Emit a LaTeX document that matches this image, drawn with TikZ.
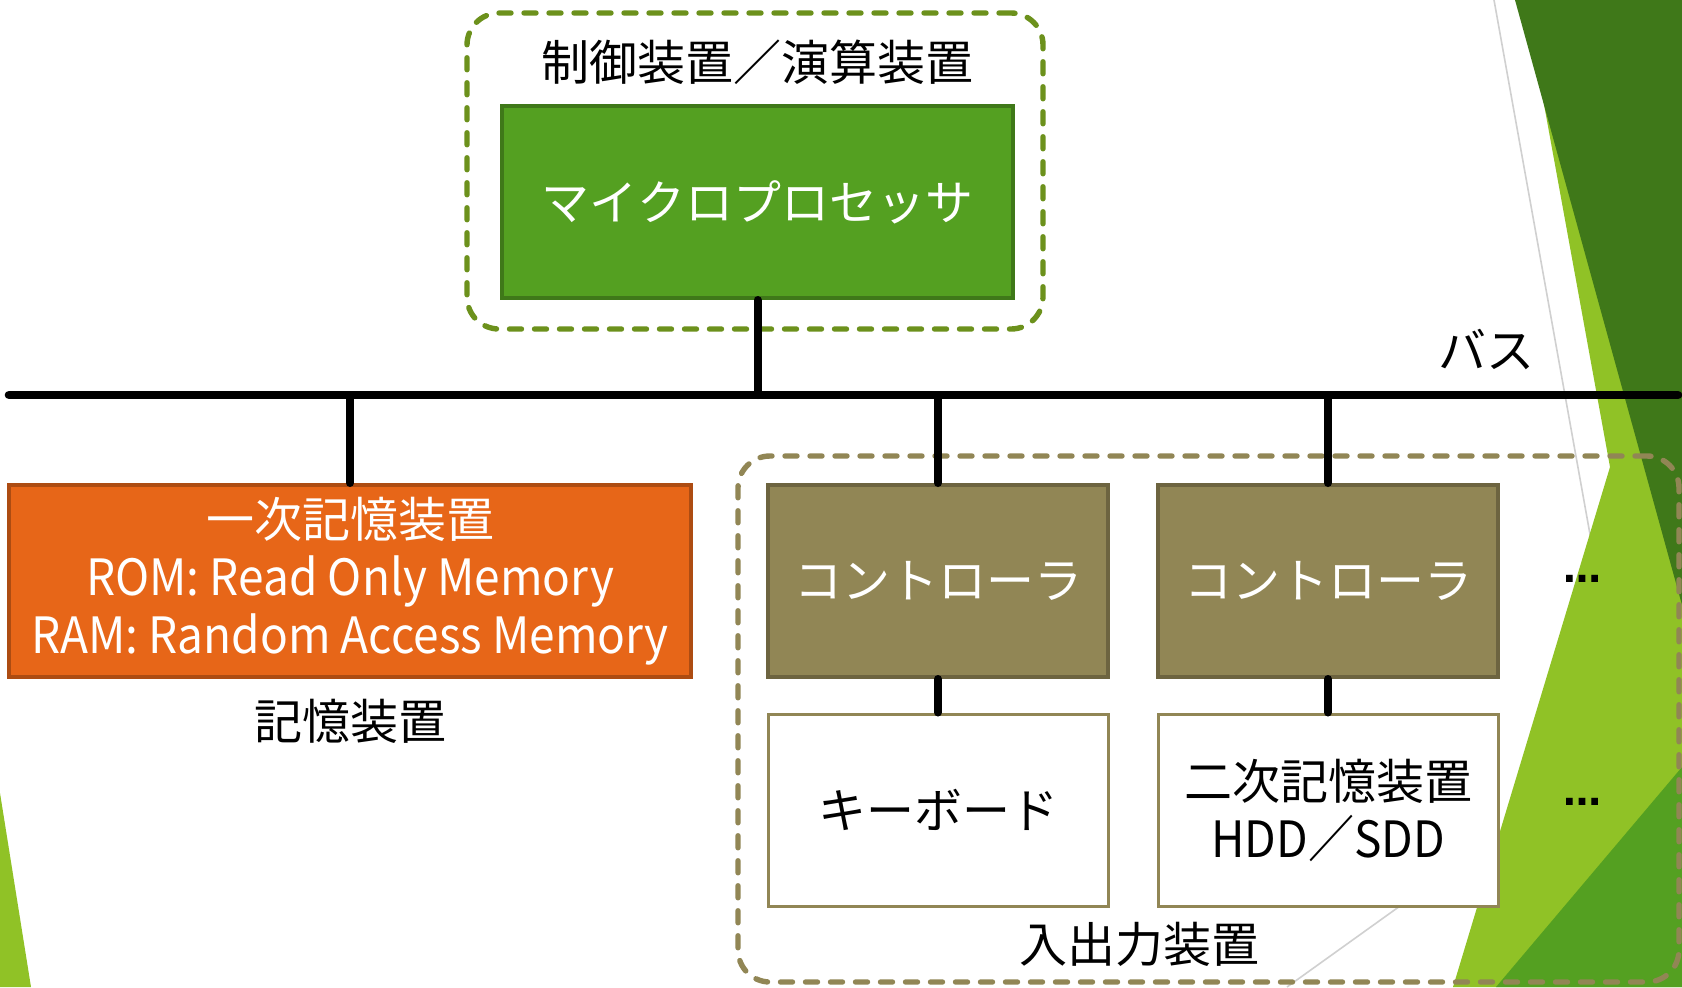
\documentclass[tikz,border=0pt]{standalone}
\usepackage{fontspec}
\setmainfont{Noto Sans CJK JP}
\newfontfamily\latn[FakeStretch=0.92]{Noto Sans CJK JP}
\newfontfamily\dotsfont{DejaVu Sans}
\definecolor{dkgreen}{HTML}{3F7819}
\definecolor{ltgreen}{HTML}{90C226}
\definecolor{mdgreen}{HTML}{54A021}
\definecolor{orng}{HTML}{E76618}
\definecolor{orngdk}{HTML}{AD4C12}
\definecolor{olv}{HTML}{918655}
\definecolor{olvdk}{HTML}{6D6440}
\definecolor{dashgreen}{HTML}{6C911C}
\definecolor{greyline}{HTML}{D0D0D0}
\newcommand{\lt}[1]{{\latn\fontsize{25}{29}\selectfont #1}}
\tikzset{
  txt/.style={font=\fontsize{24}{29}\selectfont},
  box/.style={draw, line width=2pt, minimum height=96pt, inner sep=0pt, align=center, txt},
  cpubox/.style={box, fill=mdgreen, draw=dkgreen, text=white, minimum width=255.5pt},
  membox/.style={box, fill=orng, draw=orngdk, text=white, minimum width=341pt},
  ctrlbox/.style={box, fill=olv, draw=olvdk, text=white, minimum width=170pt},
  devbox/.style={box, fill=white, draw=olv, line width=1.5pt, minimum width=170pt},
  grpbox/.style={draw, line width=2.7pt, rounded corners=16pt, dash pattern=on 6pt off 6.5pt, line cap=round, inner sep=0pt},
  wire/.style={line width=4pt, line cap=round},
  lbl/.style={txt, inner sep=0pt},
  dotlbl/.style={font=\dotsfont\bfseries\fontsize{19}{19}\selectfont, inner sep=0pt},
  bgline/.style={greyline, line width=0.8pt}
}
\begin{document}
\begin{tikzpicture}[x=0.5pt,y=-0.5pt]
\useasboundingbox (0,0) rectangle (1682,987);
\fill[white] (0,0) rectangle (1682,987);
% background decoration
\draw[bgline] (1494,0) -- (1600,590);
\draw[bgline] (1287,987) -- (1520,820);
\fill[ltgreen] (1525,0) -- (1610,467) -- (1453,987) -- (1682,987) -- (1682,0) -- cycle;
\fill[dkgreen] (1515,0) -- (1682,0) -- (1682,605) -- cycle;
\fill[mdgreen] (1682,767) -- (1496,987) -- (1682,987) -- cycle;
\fill[ltgreen] (0,793) -- (31,987) -- (0,987) -- cycle;
% group frames
\node[grpbox, draw=dashgreen, minimum width=288pt, minimum height=158pt] (cugrp) at (755,171) {};
\node[grpbox, draw=olv, minimum width=470.5pt, minimum height=263pt] (iogrp) at (1208.5,719) {};
% boxes
\node[cpubox] (cpu) at (757.5,202) {マイクロプロセッサ};
\node[membox] (mem) at (350,581) {一次記憶装置\\\lt{ROM: Read Only Memory}\\\lt{RAM: Random Access Memory}};
\node[ctrlbox] (c1) at (938,581) {コントローラ};
\node[ctrlbox] (c2) at (1328,581) {コントローラ};
\node[devbox] (kb) at (938,810) {キーボード};
\node[devbox] (hdd) at (1328,810) {二次記憶装置\\\lt{HDD／SDD}};
% bus
\coordinate (busL) at (9,395);
\coordinate (busR) at (1678,395);
\draw[wire, line width=4.3pt] (busL) -- (busR);
% connectors
\draw[wire] (cpu.south) -- (cpu.south |- busL);
\draw[wire] (mem.north) -- (mem.north |- busL);
\draw[wire] (c1.north) -- (c1.north |- busL);
\draw[wire] (c2.north) -- (c2.north |- busL);
\draw[wire] (c1.south) -- (kb.north);
\draw[wire] (c2.south) -- (hdd.north);
% labels
\node[lbl] (cutitle) at (757,62) {制御装置／演算装置};
\node[lbl] (buslbl) at (1486,349) {バス};
\node[lbl] (memlbl) at (350,721) {記憶装置};
\node[lbl] (iolbl) at (1139,944) {入出力装置};
\node[dotlbl] (dots1) at (1582,579) {…};
\node[dotlbl] (dots2) at (1582,802) {…};
\end{tikzpicture}
\end{document}
